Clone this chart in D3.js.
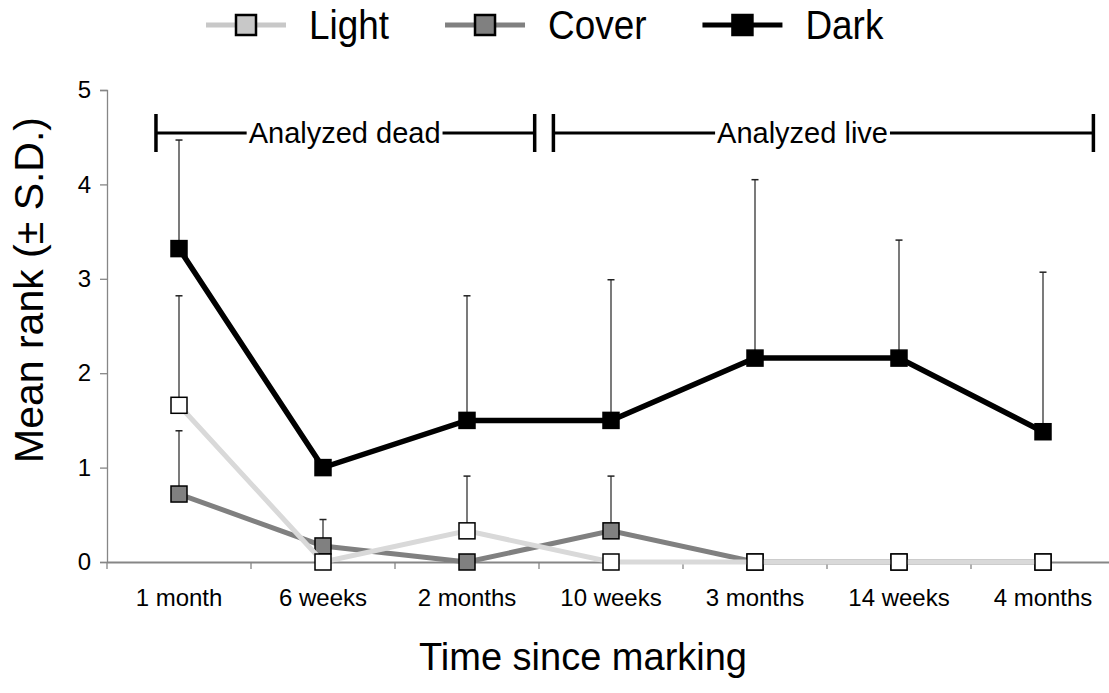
<!DOCTYPE html>
<html>
<head>
<meta charset="utf-8">
<script src="https://cdn.jsdelivr.net/npm/d3@7"></script>
<style>
  body { margin: 0; background: #fff; }
  svg { display: block; }
  .tick text { font-family: "Liberation Sans Narrow", "Arial Narrow", "Liberation Sans", sans-serif; fill: #000; }
</style>
</head>
<body>
<div id="chart"></div>
<script>
// categories and values
const categories = ['1 month', '6 weeks', '2 months', '10 weeks', '3 months', '14 weeks', '4 months'];
const lightMean = [1.66, 0, 0.33, 0, 0, 0, 0];
const lightSD = [1.16, 0, 0.58, 0, 0, 0, 0];
const coverMean = [0.72, 0.17, 0, 0.33, 0, 0, 0];
const coverSD = [0.67, 0.28, 0, 0.58, 0, 0, 0];
const darkMean = [3.32, 1.0, 1.5, 1.5, 2.16, 2.16, 1.38];
const darkSD = [1.15, 0, 1.32, 1.49, 1.89, 1.25, 1.69];
const yTicks = [0, 1, 2, 3, 4, 5];
const seriesNames = ['Light', 'Cover', 'Dark'];
// bracket spans in band units (0 = left edge of first category)
const brackets = [
  { label: 'Analyzed dead', from: 0.34, to: 2.97, mid: 1.65 },
  { label: 'Analyzed live', from: 3.10, to: 6.85, mid: 4.83 }
];

const width = 1109, height = 693;
const axisColor = '#868686';

const series = [
  { name: 'Cover', mean: coverMean, sd: coverSD, line: '#808080', fill: '#808080', lw: 5, legendFill: '#808080' },
  { name: 'Light', mean: lightMean, sd: lightSD, line: '#d9d9d9', fill: '#ffffff', lw: 5, legendFill: '#c8c8c8' },
  { name: 'Dark', mean: darkMean, sd: darkSD, line: '#000000', fill: '#000000', lw: 5.5, legendFill: '#000000' }
];

const svg = d3.select('#chart').append('svg')
  .attr('width', width)
  .attr('height', height);

const x = d3.scaleBand().domain(categories).range([107, 1115]);
const y = d3.scaleLinear().domain([0, 5]).range([562, 90]);
const unit = x.bandwidth();
const cx = (c) => x(c) + unit / 2;
const bx = (u) => x.range()[0] + u * unit;

// y axis
const yAxis = svg.append('g')
  .attr('transform', 'translate(107,0)')
  .call(d3.axisLeft(y).tickValues(yTicks).tickSize(7).tickPadding(9).tickFormat(d3.format('d')));
yAxis.select('.domain').attr('stroke', axisColor).attr('stroke-width', 1.3);
yAxis.selectAll('.tick line').attr('stroke', axisColor).attr('stroke-width', 1.3);
yAxis.selectAll('.tick text').style('font-size', '24px');

// x axis: labels at centres, ticks at band edges
const xAxis = svg.append('g')
  .attr('transform', 'translate(0,562)')
  .call(d3.axisBottom(x).tickSize(0).tickPadding(27).tickSizeOuter(0));
xAxis.select('.domain').attr('stroke', axisColor).attr('stroke-width', 2);
xAxis.selectAll('.tick text').style('font-size', '24px');
xAxis.selectAll('line.edge')
  .data(categories)
  .enter().append('line')
  .attr('class', 'edge')
  .attr('x1', (d) => x(d)).attr('x2', (d) => x(d))
  .attr('y1', 0).attr('y2', 7)
  .attr('stroke', axisColor).attr('stroke-width', 1.3);

// bracket annotations
const ann = svg.append('g');
brackets.forEach((b) => {
  const yy = 133;
  const t = ann.append('text')
    .attr('x', bx(b.mid))
    .attr('y', yy + 10)
    .attr('text-anchor', 'middle')
    .style('font-family', '"Liberation Sans", Arial, sans-serif')
    .style('font-size', '29px')
    .text(b.label);
  const w = t.node().getComputedTextLength();
  const gap = 2;
  ann.append('line')
    .attr('x1', bx(b.from)).attr('x2', bx(b.mid) - w / 2 - gap)
    .attr('y1', yy).attr('y2', yy)
    .attr('stroke', '#000').attr('stroke-width', 3);
  ann.append('line')
    .attr('x1', bx(b.mid) + w / 2 + gap).attr('x2', bx(b.to))
    .attr('y1', yy).attr('y2', yy)
    .attr('stroke', '#000').attr('stroke-width', 3);
  [b.from, b.to].forEach((u) => {
    ann.append('line')
      .attr('x1', bx(u)).attr('x2', bx(u))
      .attr('y1', yy - 19).attr('y2', yy + 19)
      .attr('stroke', '#000').attr('stroke-width', 3.5);
  });
});

// series
const line = d3.line().x((d) => cx(d.c)).y((d) => y(d.v));
series.forEach((s) => {
  const pts = categories.map((c, i) => ({ c: c, v: s.mean[i], sd: s.sd[i] }));
  const g = svg.append('g');
  g.append('path')
    .datum(pts)
    .attr('d', line)
    .attr('fill', 'none')
    .attr('stroke', s.line)
    .attr('stroke-width', s.lw)
    .attr('stroke-linejoin', 'miter');
  const eb = g.selectAll('g.err')
    .data(pts.filter((d) => d.sd > 0))
    .enter().append('g').attr('class', 'err');
  eb.append('line')
    .attr('x1', (d) => cx(d.c)).attr('x2', (d) => cx(d.c))
    .attr('y1', (d) => y(d.v)).attr('y2', (d) => y(d.v + d.sd))
    .attr('stroke', '#222').attr('stroke-width', 1.2);
  eb.append('line')
    .attr('x1', (d) => cx(d.c) - 3.5).attr('x2', (d) => cx(d.c) + 3.5)
    .attr('y1', (d) => y(d.v + d.sd)).attr('y2', (d) => y(d.v + d.sd))
    .attr('stroke', '#222').attr('stroke-width', 1.5);
  const m = 16;
  g.selectAll('rect')
    .data(pts)
    .enter().append('rect')
    .attr('x', (d) => cx(d.c) - m / 2)
    .attr('y', (d) => y(d.v) - m / 2)
    .attr('width', m).attr('height', m)
    .attr('fill', s.fill)
    .attr('stroke', '#000')
    .attr('stroke-width', 1.5);
});

// legend
const legend = svg.append('g');
let lx = 206;
seriesNames.forEach((name) => {
  const s = series.find((d) => d.name === name);
  const ly = 25;
  legend.append('line')
    .attr('x1', lx).attr('x2', lx + 80)
    .attr('y1', ly).attr('y2', ly)
    .attr('stroke', s.name === 'Light' ? '#c8c8c8' : s.line)
    .attr('stroke-width', 5);
  legend.append('rect')
    .attr('x', lx + 40 - 10).attr('y', ly - 10)
    .attr('width', 20).attr('height', 20)
    .attr('fill', s.legendFill)
    .attr('stroke', '#000')
    .attr('stroke-width', 2.5);
  const t = legend.append('text')
    .attr('transform', 'translate(' + (lx + 103) + ',' + (ly + 14) + ') scale(0.9,1)')
    .style('font-family', '"Liberation Sans", Arial, sans-serif')
    .style('font-size', '41px')
    .text(name);
  lx += 103 + t.node().getComputedTextLength() * 0.9 + 56;
});

// axis titles
svg.append('text')
  .attr('x', 583)
  .attr('y', 670)
  .attr('text-anchor', 'middle')
  .style('font-family', '"Liberation Sans", Arial, sans-serif')
  .style('font-size', '38px')
  .text('Time since marking');

svg.append('text')
  .attr('transform', 'translate(43,290) rotate(-90)')
  .attr('text-anchor', 'middle')
  .style('font-family', '"Liberation Sans", Arial, sans-serif')
  .style('font-size', '41px')
  .text('Mean rank (± S.D.)');
</script>
</body>
</html>
